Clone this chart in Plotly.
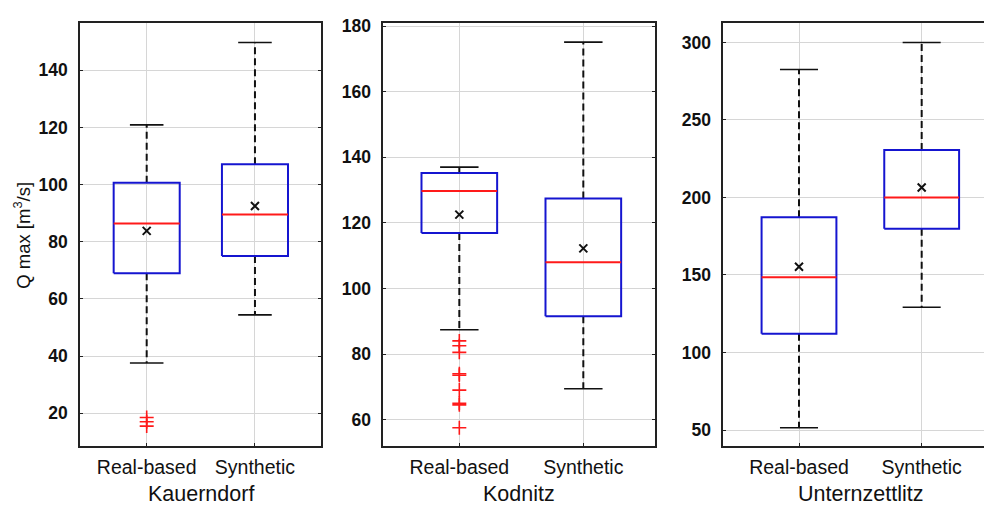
import plotly.graph_objects as go

# ---------------- data ----------------
stations = ["Kauerndorf", "Kodnitz", "Unternzettlitz"]
categories = ["Real-based", "Synthetic"]

lower_whisker = [[37.6, 54.4], [87.4, 69.4], [51.5, 129.2]]
q1 = [[69.0, 75.0], [116.9, 91.5], [112.1, 179.8]]
median = [[86.4, 89.5], [129.7, 108.0], [148.5, 200.0]]
q3 = [[100.6, 107.1], [135.2, 127.4], [187.3, 230.7]]
upper_whisker = [[120.9, 149.7], [137.0, 175.1], [282.6, 300.0]]
mean = [[83.8, 92.5], [122.5, 112.2], [155.3, 206.4]]
outliers = [
    [[18.5, 17.0, 15.5], []],
    [[84.0, 82.5, 80.5, 74.0, 73.5, 69.0, 65.0, 64.5, 57.5], []],
    [[], []],
]

y_ranges = [[8.6, 156.6], [52.0, 181.0], [39.8, 312.7]]
y_ticks = [[20, 40, 60, 80, 100, 120, 140],
           [60, 80, 100, 120, 140, 160, 180],
           [50, 100, 150, 200, 250, 300]]
x_ranges = [[0.384, 2.61], [0.387, 2.578], [0.383, 2.508]]

# ---------------- layout geometry ----------------
W, H = 984, 505
px_domains = [(80, 321), (383.3, 655), (723.3, 984)]
y_dom = [(H - 445) / H, (H - 16) / H]

BOX_HALF = 0.305
CAP_HALF = 0.155
BLUE = "#1515d0"
RED = "#ff1a1a"
BLACK = "#111111"

fig = go.Figure()

for i in range(3):
    xa = "x" if i == 0 else f"x{i+1}"
    ya = "y" if i == 0 else f"y{i+1}"
    for j in range(2):
        xc = j + 1
        # whiskers (dashed)
        fig.add_trace(go.Scatter(
            x=[xc, xc, None, xc, xc],
            y=[q3[i][j], upper_whisker[i][j], None, q1[i][j], lower_whisker[i][j]],
            mode="lines", line=dict(color=BLACK, width=2, dash="7px,4px"),
            xaxis=xa, yaxis=ya, showlegend=False, hoverinfo="skip"))
        # caps
        fig.add_trace(go.Scatter(
            x=[xc - CAP_HALF, xc + CAP_HALF, None, xc - CAP_HALF, xc + CAP_HALF],
            y=[upper_whisker[i][j], upper_whisker[i][j], None,
               lower_whisker[i][j], lower_whisker[i][j]],
            mode="lines", line=dict(color=BLACK, width=1.6),
            xaxis=xa, yaxis=ya, showlegend=False, hoverinfo="skip"))
        # box
        fig.add_trace(go.Scatter(
            x=[xc - BOX_HALF, xc + BOX_HALF, xc + BOX_HALF, xc - BOX_HALF, xc - BOX_HALF],
            y=[q1[i][j], q1[i][j], q3[i][j], q3[i][j], q1[i][j]],
            mode="lines", line=dict(color=BLUE, width=2),
            xaxis=xa, yaxis=ya, showlegend=False, hoverinfo="skip"))
        # median
        fig.add_trace(go.Scatter(
            x=[xc - BOX_HALF, xc + BOX_HALF],
            y=[median[i][j], median[i][j]],
            mode="lines", line=dict(color=RED, width=2),
            xaxis=xa, yaxis=ya, showlegend=False, hoverinfo="skip"))
        # mean
        fig.add_trace(go.Scatter(
            x=[xc], y=[mean[i][j]], mode="markers",
            marker=dict(symbol="x-thin", size=8, line=dict(color=BLACK, width=2)),
            xaxis=xa, yaxis=ya, showlegend=False, hoverinfo="skip"))
        # outliers
        if outliers[i][j]:
            fig.add_trace(go.Scatter(
                x=[xc] * len(outliers[i][j]), y=outliers[i][j], mode="markers",
                marker=dict(symbol="cross-thin", size=10, line=dict(color=RED, width=1.6)),
                xaxis=xa, yaxis=ya, showlegend=False, hoverinfo="skip"))

layout = dict(
    width=W, height=H,
    margin=dict(l=0, r=0, t=0, b=0),
    paper_bgcolor="white", plot_bgcolor="white",
    font=dict(family="Liberation Sans, Arial, sans-serif", color="#111111"),
)

for i in range(3):
    xk = "xaxis" if i == 0 else f"xaxis{i+1}"
    yk = "yaxis" if i == 0 else f"yaxis{i+1}"
    ya = "y" if i == 0 else f"y{i+1}"
    xa = "x" if i == 0 else f"x{i+1}"
    d0, d1 = px_domains[i]
    layout[xk] = dict(
        domain=[d0 / W, d1 / W], anchor=ya, range=x_ranges[i],
        tickmode="array", tickvals=[1, 2], ticktext=categories,
        showgrid=True, gridcolor="#d6d6d6", gridwidth=1,
        showline=True, linecolor="#222222", linewidth=1.5, mirror=True,
        ticks="inside", ticklen=3, tickcolor="#222222",
        tickfont=dict(size=19.5, color="#111111"),
        ticklabelstandoff=3, zeroline=False, fixedrange=True,
    )
    layout[yk] = dict(
        domain=y_dom, anchor=xa, range=y_ranges[i],
        tickmode="array", tickvals=y_ticks[i],
        showgrid=True, gridcolor="#d6d6d6", gridwidth=1,
        showline=True, linecolor="#222222", linewidth=1.5,
        mirror=("ticks" if i < 2 else False),
        ticks="inside", ticklen=3, tickcolor="#222222",
        tickfont=dict(size=17.5, color="#111111", weight="bold"),
        ticklabelstandoff=7, zeroline=False, fixedrange=True,
    )

annotations = []
for i in range(3):
    d0, d1 = px_domains[i]
    cx = (d0 + d1) / 2 if i < 2 else 860
    annotations.append(dict(
        text=stations[i], x=cx / W, y=1 - 494 / H, xref="paper", yref="paper",
        xanchor="center", yanchor="middle", showarrow=False,
        font=dict(size=21.5, color="#111111")))
annotations.append(dict(
    text="Q max [m<sup>3</sup>/s]", x=22 / W, y=1 - 232 / H, xref="paper", yref="paper",
    xanchor="center", yanchor="middle", showarrow=False, textangle=-90,
    font=dict(size=18.5, color="#111111")))
layout["annotations"] = annotations

fig.update_layout(**layout)
fig.write_html("out.html")
